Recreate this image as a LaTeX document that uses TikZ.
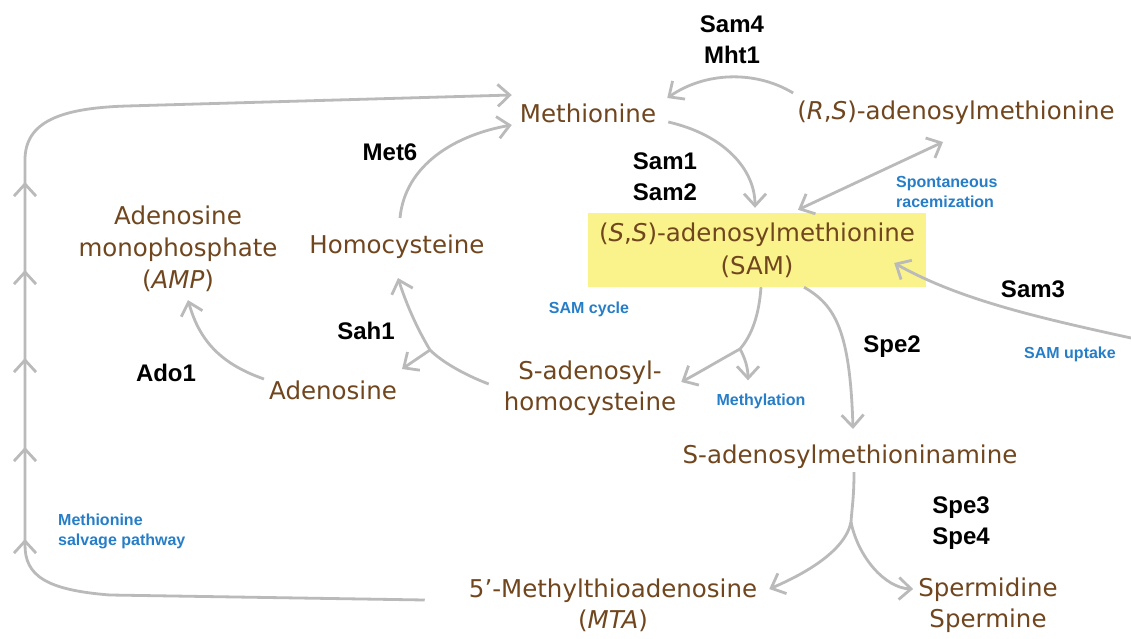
\documentclass[tikz,border=0pt]{standalone}
\usepackage{fontspec}
\setmainfont{DejaVu Sans}
\newfontfamily\enzfont{Liberation Sans}
\usetikzlibrary{arrows.meta}
\definecolor{metbrown}{RGB}{112,70,30}
\definecolor{flowgray}{RGB}{186,186,186}
\definecolor{samyellow}{RGB}{250,243,140}
\definecolor{noteblue}{RGB}{38,126,200}

\begin{document}
\begin{tikzpicture}[x=1pt,y=-1pt,
    metab/.style={text=metbrown,font=\fontsize{24.5}{31}\selectfont,align=center,inner sep=0pt},
    enzyme/.style={font=\enzfont\bfseries\fontsize{24}{31}\selectfont,align=center,inner sep=0pt},
    note/.style={text=noteblue,font=\enzfont\bfseries\fontsize{16}{20}\selectfont,align=left,inner sep=0pt},
    flow/.style={draw=flowgray,line width=2.8pt,-{Straight Barb[length=12pt,width=22pt]}},
    flowboth/.style={flow,{Straight Barb[length=12pt,width=22pt]}-{Straight Barb[length=12pt,width=22pt]}}]
\useasboundingbox (0,0) rectangle (1131,639);
\fill[white] (0,0) rectangle (1131,639);
% metabolites
\node[metab] (met) at (588,113) {Methionine};
\node[metab] (rsam) at (956,113) {(\textit{R},\textit{S})-adenosylmethionine};
\node[metab,fill=samyellow,minimum width=338pt,minimum height=74pt,font=\fontsize{24.5}{33}\selectfont] (sam) at (757,250) {(\textit{S},\textit{S})-adenosylmethionine\\(SAM)};
\node[metab,font=\fontsize{24.5}{32}\selectfont] (amp) at (178,249) {Adenosine\\monophosphate\\(\textit{AMP})};
\node[metab] (hcy) at (397,247) {Homocysteine};
\node[metab] (ado) at (333,390) {Adenosine};
\node[metab] (sah) at (590,388) {S-adenosyl-\\homocysteine};
\node[metab] (samn) at (850,457) {S-adenosylmethioninamine};
\node[metab] (mta) at (613,605) {5'-Methylthioadenosine\\(\textit{MTA})};
\node[metab] (spd) at (988,605) {Spermidine\\Spermine};
% enzymes
\node[enzyme] (sam4) at (732,40) {Sam4\\Mht1};
\node[enzyme] (sam12) at (665,177) {Sam1\\Sam2};
\node[enzyme] (met6) at (390,152) {Met6};
\node[enzyme] (sam3) at (1033,289) {Sam3};
\node[enzyme] (sah1) at (366,331) {Sah1};
\node[enzyme] (ado1) at (166,373) {Ado1};
\node[enzyme] (spe2) at (892,347) {Spe2};
\node[enzyme] (spe34) at (961,523) {Spe3\\Spe4};
% notes
\node[note,anchor=west] (racem) at (896,192) {Spontaneous\\racemization};
\node[note] (cycle) at (589,309) {SAM cycle};
\node[note] (methyl) at (761,401) {Methylation};
\node[note] (uptake) at (1070,354) {SAM uptake};
\node[note,anchor=west] (salvage) at (58,531) {Methionine\\salvage pathway};
% connectors
\coordinate (uptakein) at (1131,338);
\coordinate (sahfork) at (430,350);
\coordinate (methfork) at (740,349);
\coordinate (spefork) at (851,522);
\draw[flow] ([shift={(-44,-5)}]mta.west) -- (110,595) .. controls (45,590) and (25,575) .. (25,545)
    -- (25,160) .. controls (25,122) and (60,108) .. (127,106) -- ([shift={(-8,-18)}]met.west);
\foreach \yy in {182,270,358,447,539}
  \draw[flow] (25,\yy+14) -- (25,\yy);
\draw[flow] ([shift={(-4,-20)}]rsam.west) .. controls (755,70) and (705,72) .. ([shift={(11,-15)}]met.east);
\draw[flow] ([shift={(12,9)}]met.east) .. controls (725,135) and (755,170) .. ([shift={(-2,-5)}]sam.north);
\draw[flowboth] ([shift={(41,-3)}]sam.north) -- ([shift={(-13,29)}]rsam.center);
\draw[flow] (uptakein) .. controls (1040,318) and (960,300) .. ([shift={(-32,13)}]sam.east);
\draw[flow] ([shift={(3,-29)}]hcy.center) .. controls (405,165) and (455,135) .. ([shift={(-8,12)}]met.west);
\draw[flow] ([shift={(-15,-4)}]sah.west) .. controls (465,375) and (442,362) .. (sahfork)
    .. controls (415,325) and (405,300) .. ([shift={(1,19)}]hcy.south);
\draw[flow] (sahfork) -- ([shift={(5,-21)}]ado.east);
\draw[flow] ([shift={(-5,-11)}]ado.west) .. controls (215,362) and (198,335) .. ([shift={(10,8)}]amp.south);
\draw[flow] ([xshift=4]sam.south) .. controls (759,315) and (752,335) .. (methfork)
    .. controls (720,360) and (700,372) .. ([shift={(5,-6)}]sah.east);
\draw[flow] (methfork) .. controls (745,358) and (748,368) .. ([shift={(-13,-13)}]methyl.north);
\draw[flow] ([xshift=47]sam.south) .. controls (835,305) and (850,330) .. ([shift={(3,-16)}]samn.north);
\draw[flow] ([shift={(4,3)}]samn.south) .. controls (854,497) and (852,507) .. (spefork)
    .. controls (845,552) and (802,575) .. ([shift={(12,-16)}]mta.east);
\draw[flow] (spefork) .. controls (858,557) and (885,588) .. ([shift={(-5,-16)}]spd.west);
\end{tikzpicture}
\end{document}
